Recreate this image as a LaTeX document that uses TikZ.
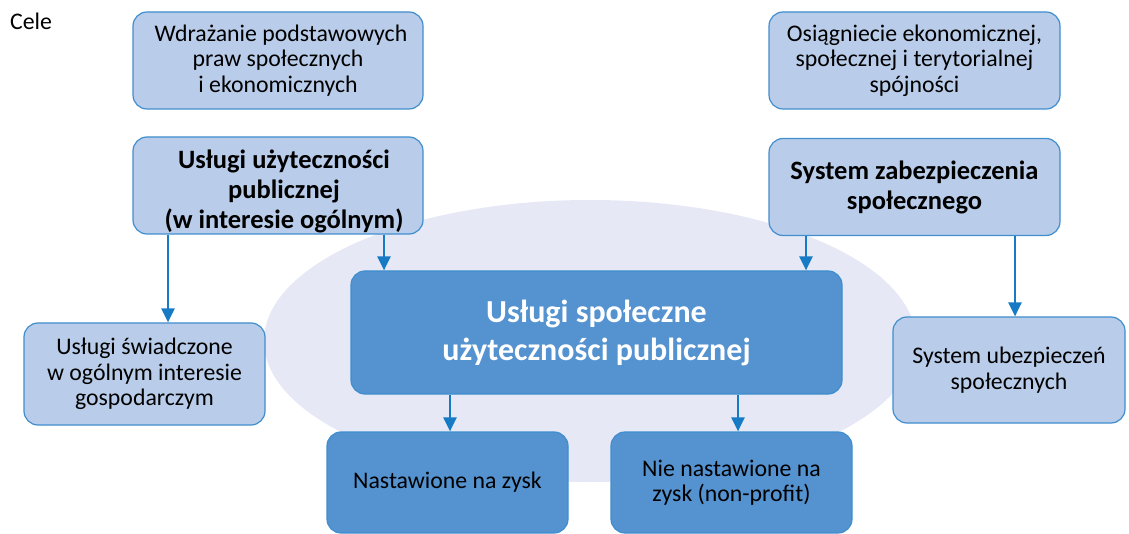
\documentclass[tikz,border=0pt]{standalone}
\usepackage{fontspec}
\setmainfont{Carlito}
\usetikzlibrary{arrows.meta}
\definecolor{lightfill}{RGB}{185,205,234}
\definecolor{darkfill}{RGB}{84,146,208}
\definecolor{boxedge}{RGB}{64,142,206}
\definecolor{arrowblue}{RGB}{22,122,196}
\definecolor{haze}{RGB}{230,233,245}
\begin{document}
\begin{tikzpicture}[x=1pt,y=-1pt,
  lightbox/.style={draw=boxedge, line width=1.2pt, fill=lightfill, rounded corners=14pt,
    align=center, inner sep=0pt, text=black},
  darkbox/.style={draw=boxedge, line width=1.2pt, fill=darkfill, rounded corners=14pt,
    align=center, inner sep=0pt},
  arr/.style={draw=arrowblue, line width=2.4pt, -{Triangle[width=13pt,length=14pt]}},
  small/.style={font=\fontsize{23.8}{25.5}\selectfont},
  boldtxt/.style={font=\fontsize{26.5}{30}\selectfont\bfseries}
]
\useasboundingbox (0,0) rectangle (1129,534);

% background ellipse
\fill[haze] (590,341) ellipse [x radius=326pt, y radius=141pt];

\node[small, anchor=west, inner sep=0pt] (cele) at (10,21) {Cele};

% goals row
\node[lightbox, small, minimum width=290pt, minimum height=97pt] (goalL) at (278,60.5)
  {\hspace*{6pt}Wdrażanie podstawowych\\praw społecznych\\i ekonomicznych};
\node[lightbox, small, minimum width=291pt, minimum height=97pt] (goalR) at (914.5,60.5)
  {Osiągniecie ekonomicznej,\\społecznej i terytorialnej\\spójności};

% second row
\node[lightbox, minimum width=290pt, minimum height=97pt] (pub) at (278,185.5) {};
\node[boldtxt, align=center] (pubtxt) at (284,191) {Usługi użyteczności\\publicznej\\(w interesie ogólnym)};
\node[lightbox, boldtxt, minimum width=291pt, minimum height=97pt] (soc) at (914.5,187)
  {System zabezpieczenia\\społecznego};

% side boxes
\node[lightbox, small, minimum width=241pt, minimum height=102pt] (econ) at (144.5,374)
  {Usługi świadczone\\w ogólnym interesie\\gospodarczym};
\node[lightbox, small, minimum width=232pt, minimum height=106pt] (ins) at (1009,370)
  {System ubezpieczeń\\społecznych};

% central box
\node[darkbox, text=white, font=\fontsize{32}{38}\selectfont\bfseries,
  minimum width=491pt, minimum height=123pt] (core) at (596.5,332.5)
  {Usługi społeczne\\użyteczności publicznej};

% bottom boxes
\node[darkbox, small, text=black, minimum width=241pt, minimum height=101pt] (profit) at (447.5,482.5)
  {Nastawione na zysk};
\node[darkbox, small, text=black, minimum width=241pt, minimum height=101pt] (nonprofit) at (731.5,482.5)
  {Nie nastawione na\\zysk (non-profit)};

% connectors
\draw[arr] (pub.south -| 168,0) -- (econ.north -| 168,0);
\draw[arr] (pub.south -| 384,0) -- (core.north -| 384,0);
\draw[arr] (soc.south -| 806,0) -- (core.north -| 806,0);
\draw[arr] (soc.south -| 1015,0) -- (ins.north -| 1015,0);
\draw[arr] (core.south -| 450,0) -- (profit.north -| 450,0);
\draw[arr] (core.south -| 738,0) -- (nonprofit.north -| 738,0);
\end{tikzpicture}
\end{document}
